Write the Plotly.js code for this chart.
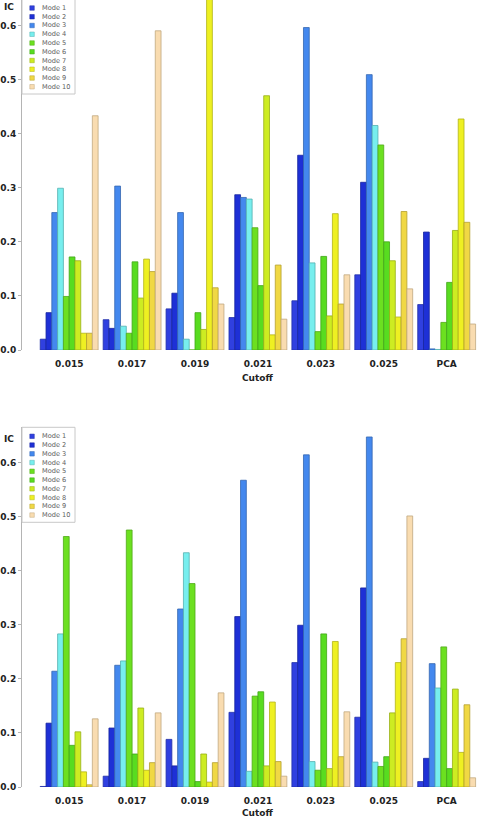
<!DOCTYPE html>
<html>
<head>
<meta charset="utf-8">
<script src="https://cdn.plot.ly/plotly-3.0.1.min.js"></script>
<style>
  html, body { margin: 0; padding: 0; background: #ffffff; }
  #chart { width: 480px; height: 818px; }
</style>
</head>
<body>
<div id="chart"></div>
<script>
// ---- data ----
var categories = ['0.015', '0.017', '0.019', '0.021', '0.023', '0.025', 'PCA'];
var modeNames = ['Mode 1', 'Mode 2', 'Mode 3', 'Mode 4', 'Mode 5', 'Mode 6', 'Mode 7', 'Mode 8', 'Mode 9', 'Mode 10'];

// top panel: IC per mode across cutoffs
var topMode1  = [0.020, 0.056, 0.076, 0.060, 0.091, 0.139, 0.084];
var topMode2  = [0.069, 0.040, 0.105, 0.287, 0.360, 0.310, 0.218];
var topMode3  = [0.254, 0.303, 0.254, 0.282, 0.596, 0.509, 0.002];
var topMode4  = [0.299, 0.044, 0.020, 0.279, 0.161, 0.415, 0.001];
var topMode5  = [0.099, 0.031, 0.000, 0.226, 0.034, 0.379, 0.051];
var topMode6  = [0.172, 0.163, 0.069, 0.119, 0.173, 0.200, 0.125];
var topMode7  = [0.165, 0.096, 0.038, 0.470, 0.063, 0.165, 0.221];
var topMode8  = [0.031, 0.168, 0.660, 0.028, 0.252, 0.061, 0.427];
var topMode9  = [0.031, 0.145, 0.115, 0.157, 0.085, 0.256, 0.236];
var topMode10 = [0.433, 0.590, 0.085, 0.057, 0.139, 0.113, 0.048];

// bottom panel
var botMode1  = [0.001, 0.020, 0.088, 0.138, 0.230, 0.129, 0.010];
var botMode2  = [0.118, 0.109, 0.039, 0.315, 0.299, 0.368, 0.053];
var botMode3  = [0.214, 0.225, 0.329, 0.567, 0.614, 0.647, 0.228];
var botMode4  = [0.283, 0.233, 0.433, 0.029, 0.047, 0.046, 0.183];
var botMode5  = [0.463, 0.475, 0.376, 0.168, 0.031, 0.038, 0.259];
var botMode6  = [0.077, 0.061, 0.010, 0.176, 0.283, 0.056, 0.034];
var botMode7  = [0.102, 0.146, 0.061, 0.039, 0.034, 0.137, 0.181];
var botMode8  = [0.028, 0.031, 0.009, 0.157, 0.269, 0.230, 0.064];
var botMode9  = [0.004, 0.045, 0.045, 0.047, 0.056, 0.274, 0.152];
var botMode10 = [0.126, 0.137, 0.174, 0.020, 0.139, 0.501, 0.017];

var yTickVals = [0, 0.1, 0.2, 0.3, 0.4, 0.5, 0.6];
var yAxisLabel = 'IC';
var xAxisLabel = 'Cutoff';

// ---- styles ----
var colors = ['#3040e0', '#1e30d6', '#4488ee', '#77eeee', '#6ce020', '#58dc20',
              '#cdec22', '#eef022', '#f0d844', '#f9dcb0'];
var outlines = ['#2230a8', '#16249e', '#3366b0', '#55b0b0', '#4fa818', '#40a418',
                '#98b018', '#b2b418', '#b4a030', '#c0a880'];

var topSeries = [topMode1, topMode2, topMode3, topMode4, topMode5, topMode6, topMode7, topMode8, topMode9, topMode10];
var botSeries = [botMode1, botMode2, botMode3, botMode4, botMode5, botMode6, botMode7, botMode8, botMode9, botMode10];

var traces = [];
function addPanel(series, xa, ya) {
  series.forEach(function (vals, i) {
    traces.push({
      type: 'bar',
      name: modeNames[i],
      x: categories,
      y: vals,
      xaxis: xa,
      yaxis: ya,
      showlegend: false,
      marker: { color: colors[i], line: { color: outlines[i], width: 0.8 } },
      hoverinfo: 'x+y+name'
    });
  });
}
addPanel(topSeries, 'x', 'y');
addPanel(botSeries, 'x2', 'y2');

// ---- layout geometry (pixels) ----
var W = 480, H = 818;
var mL = 22, mR = 0, mT = 0, mB = 31;
var plotW = W - mL - mR, plotH = H - mT - mB;
function px(p) { return (p - mL) / plotW; }
function py(p) { return (plotH - (p - mT)) / plotH; }

var topDomain = [py(350), 1];
var botDomain = [0, py(427.3)];
var pxPerUnit = 541;
var topMax = 350 / pxPerUnit;
var botMax = (plotH - 427.3) / pxPerUnit;
var xRange = [-0.75, 6.53];

var tickFont = { family: 'DejaVu Sans', size: 9, color: '#222222', weight: 'bold' };

function yAxis(domain, maxv, anchor) {
  return {
    domain: domain, range: [0, maxv], anchor: anchor,
    tickvals: yTickVals, tickformat: '.1f',
    showline: true, linecolor: '#b4b4b4', linewidth: 1,
    ticks: 'outside', ticklen: 3, tickcolor: '#b4b4b4', tickwidth: 1,
    showgrid: false, zeroline: false, tickfont: tickFont,
    fixedrange: true
  };
}
function xAxis(anchor) {
  return {
    type: 'category', anchor: anchor, range: xRange,
    showline: false, ticks: '', showgrid: false, zeroline: false,
    tickfont: tickFont, ticklabelstandoff: 7, fixedrange: true
  };
}

var shapes = [];
var annotations = [];
function addPanelDecor(legendTopPx, icPx) {
  // legend frame
  shapes.push({ type: 'rect', xref: 'paper', yref: 'paper',
    x0: px(22), x1: px(75), y0: py(legendTopPx + 95), y1: py(legendTopPx),
    line: { color: '#c8c8c8', width: 1 }, fillcolor: '#ffffff', layer: 'above' });
  modeNames.forEach(function (name, i) {
    var cy = legendTopPx + 9 + i * 8.75;
    shapes.push({ type: 'rect', xref: 'paper', yref: 'paper',
      x0: px(29.8), x1: px(34.3), y0: py(cy + 2.25), y1: py(cy - 2.25),
      line: { color: outlines[i], width: 0.5 }, fillcolor: colors[i], layer: 'above' });
    annotations.push({ xref: 'paper', yref: 'paper', x: px(39.5), y: py(cy),
      xanchor: 'left', yanchor: 'middle', showarrow: false, text: name,
      font: { family: 'DejaVu Sans', size: 6.6, color: '#606060' } });
  });
  // IC label
  annotations.push({ xref: 'paper', yref: 'paper', x: px(9), y: py(icPx),
    xanchor: 'center', yanchor: 'middle', showarrow: false, text: yAxisLabel,
    font: { family: 'DejaVu Sans', size: 9, color: '#222222', weight: 'bold' } });
}
addPanelDecor(-1, 7);
addPanelDecor(427.3, 439);

// x axis titles centred under the middle category (index 3 of the category axis)
var midIdx = Math.floor(categories.length / 2);
var midX = (midIdx - xRange[0]) / (xRange[1] - xRange[0]);
annotations.push({ xref: 'paper', yref: 'paper', x: midX, y: topDomain[0],
  xanchor: 'center', yanchor: 'middle', yshift: -28, showarrow: false, text: xAxisLabel,
  font: { family: 'DejaVu Sans', size: 9, color: '#222222', weight: 'bold' } });
annotations.push({ xref: 'paper', yref: 'paper', x: midX, y: botDomain[0],
  xanchor: 'center', yanchor: 'middle', yshift: -25.5, showarrow: false, text: xAxisLabel,
  font: { family: 'DejaVu Sans', size: 9, color: '#222222', weight: 'bold' } });

var layout = {
  width: W, height: H,
  margin: { l: mL, r: mR, t: mT, b: mB, pad: 0 },
  paper_bgcolor: '#ffffff', plot_bgcolor: '#ffffff',
  barmode: 'group', bargap: 0.08, bargroupgap: 0,
  showlegend: false,
  xaxis: xAxis('y'),
  yaxis: yAxis(topDomain, topMax, 'x'),
  xaxis2: xAxis('y2'),
  yaxis2: yAxis(botDomain, botMax, 'x2'),
  shapes: shapes,
  annotations: annotations,
  font: { family: 'DejaVu Sans' }
};

Plotly.newPlot('chart', traces, layout, { displayModeBar: false, staticPlot: true });
</script>
</body>
</html>
